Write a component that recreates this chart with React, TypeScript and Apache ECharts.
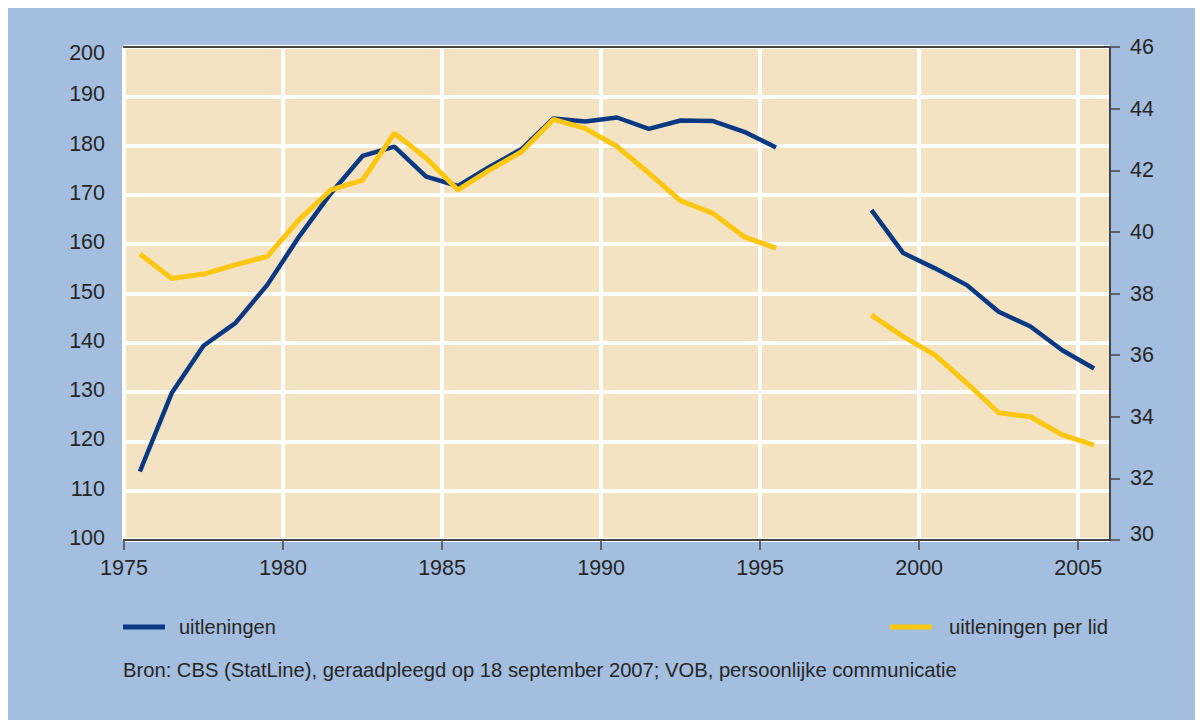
import React, { useEffect, useRef } from "react";
import * as echarts from "echarts";

const years = [
  1975, 1976, 1977, 1978, 1979, 1980, 1981, 1982, 1983, 1984, 1985, 1986, 1987,
  1988, 1989, 1990, 1991, 1992, 1993, 1994, 1995, 1996, 1997, 1998, 1999, 2000,
  2001, 2002, 2003, 2004, 2005,
];

// uitleningen (left axis, miljoenen)
const uitleningen = [
  113.9, 129.8, 139.4, 144.0, 151.7, 161.5, 170.3, 177.9, 179.8, 173.7, 171.8,
  175.7, 179.3, 185.5, 184.9, 185.7, 183.4, 185.1, 185.0, 182.8, 179.6, null,
  null, 166.9, 158.2, 155.1, 151.7, 146.3, 143.3, 138.5, 134.8,
];

// uitleningen per lid (right axis)
const uitleningenPerLid = [
  39.28, 38.49, 38.63, 38.93, 39.2, 40.39, 41.36, 41.68, 43.2, 42.4, 41.36,
  42.01, 42.6, 43.65, 43.36, 42.77, 41.91, 41.01, 40.61, 39.84, 39.47, null,
  null, 37.3, 36.6, 36.0, 35.09, 34.13, 34.0, 33.41, 33.08,
];

const xTicks = [1975, 1980, 1985, 1990, 1995, 2000, 2005];
const seriesNames = ["uitleningen", "uitleningen per lid"];
const sourceText =
  "Bron: CBS (StatLine), geraadpleegd op 18 september 2007; VOB, persoonlijke communicatie";

const FONT = "'Liberation Sans', Arial, sans-serif";
const TXT = "#262626";
const AXIS = "#444444";
const NAVY = "#0a3984";
const YELLOW = "#fdc711";

export default function App() {
  const ref = useRef<HTMLDivElement>(null);

  useEffect(() => {
    document.documentElement.style.overflow = "hidden";
    const chart = echarts.init(ref.current!, undefined, { renderer: "svg" });

    const blueData = years.map((y, i) => [y + 0.5, uitleningen[i]]);
    const yellowData = years.map((y, i) => [y + 0.5, uitleningenPerLid[i]]);

    chart.setOption({
      animation: false,
      backgroundColor: "#a3bedf",
      textStyle: { fontFamily: FONT },
      title: {
        text: sourceText,
        left: 115,
        top: 652,
        padding: 0,
        textStyle: {
          fontFamily: FONT,
          fontSize: 20.2,
          fontWeight: "normal",
          color: TXT,
          lineHeight: 20,
        },
      },
      legend: [
        {
          data: [seriesNames[0]],
          left: 115,
          top: 609,
          padding: 0,
          icon: "rect",
          itemWidth: 42,
          itemHeight: 5,
          textStyle: {
            fontFamily: FONT,
            fontSize: 20,
            color: TXT,
            lineHeight: 20,
            padding: [0, 0, 0, 9],
          },
        },
        {
          data: [seriesNames[1]],
          left: 882,
          top: 609,
          padding: 0,
          icon: "rect",
          itemWidth: 42,
          itemHeight: 5,
          textStyle: {
            fontFamily: FONT,
            fontSize: 20.3,
            color: TXT,
            lineHeight: 20,
            padding: [0, 0, 0, 12],
          },
        },
      ],
      grid: {
        left: 116,
        top: 39,
        right: 93,
        bottom: 180,
        show: true,
        backgroundColor: "#f3e3c3",
        borderWidth: 0,
        containLabel: false,
      },
      xAxis: [
        {
          type: "value",
          position: "bottom",
          min: 1975,
          max: 2006,
          interval: 5,
          axisLine: { show: true, lineStyle: { color: AXIS, width: 2 } },
          axisTick: {
            show: true,
            length: 10,
            customValues: xTicks,
            lineStyle: { color: AXIS, width: 1.5 },
          },
          axisLabel: {
            customValues: xTicks,
            margin: 17,
            fontSize: 21.5,
            color: TXT,
            fontFamily: FONT,
            formatter: (v: number) => String(v),
          },
          splitLine: {
            show: true,
            lineStyle: { color: "#ffffff", width: 4 },
          },
        },
        {
          type: "value",
          position: "top",
          min: 1975,
          max: 2006,
          interval: 5,
          axisLine: { show: true, lineStyle: { color: AXIS, width: 2 } },
          axisTick: { show: false },
          axisLabel: { show: false },
          splitLine: { show: false },
        },
      ],
      yAxis: [
        {
          type: "value",
          position: "left",
          min: 100,
          max: 200,
          interval: 10,
          axisLine: { show: false },
          axisTick: { show: false },
          axisLabel: {
            margin: 19,
            fontSize: 21.5,
            color: TXT,
            fontFamily: FONT,
            verticalAlign: "middle",
            padding: [0, 0, 4, 0],
            formatter: (v: number) => (v === 200 ? "{t|200}" : String(v)),
            rich: {
              t: {
                fontSize: 21.5,
                color: TXT,
                fontFamily: FONT,
                padding: [16, 0, 0, 0],
              },
            },
          },
          splitLine: {
            show: true,
            lineStyle: { color: "#ffffff", width: 4 },
          },
        },
        {
          type: "value",
          position: "right",
          min: 30,
          max: 46,
          interval: 2,
          axisLine: { show: true, lineStyle: { color: AXIS, width: 2 } },
          axisTick: {
            show: true,
            length: 10,
            lineStyle: { color: AXIS, width: 1.5 },
          },
          axisLabel: {
            margin: 20,
            fontSize: 21.5,
            color: TXT,
            fontFamily: FONT,
            formatter: (v: number) => (v === 30 ? "{b|30}" : String(v)),
            rich: {
              b: {
                fontSize: 21.5,
                color: TXT,
                fontFamily: FONT,
                padding: [0, 0, 12, 0],
              },
            },
          },
          splitLine: { show: false },
        },
      ],
      series: [
        {
          name: seriesNames[0],
          type: "line",
          xAxisIndex: 0,
          yAxisIndex: 0,
          data: blueData,
          showSymbol: false,
          symbol: "none",
          connectNulls: false,
          color: NAVY,
          lineStyle: { color: NAVY, width: 4.5 },
          itemStyle: { color: NAVY },
          z: 3,
        },
        {
          name: seriesNames[1],
          type: "line",
          xAxisIndex: 0,
          yAxisIndex: 1,
          data: yellowData,
          showSymbol: false,
          symbol: "none",
          connectNulls: false,
          color: YELLOW,
          lineStyle: { color: YELLOW, width: 5 },
          itemStyle: { color: YELLOW },
          z: 4,
        },
      ],
    });

    return () => {
      chart.dispose();
    };
  }, []);

  return <div ref={ref} style={{ width: 1195, height: 712 }} />;
}
